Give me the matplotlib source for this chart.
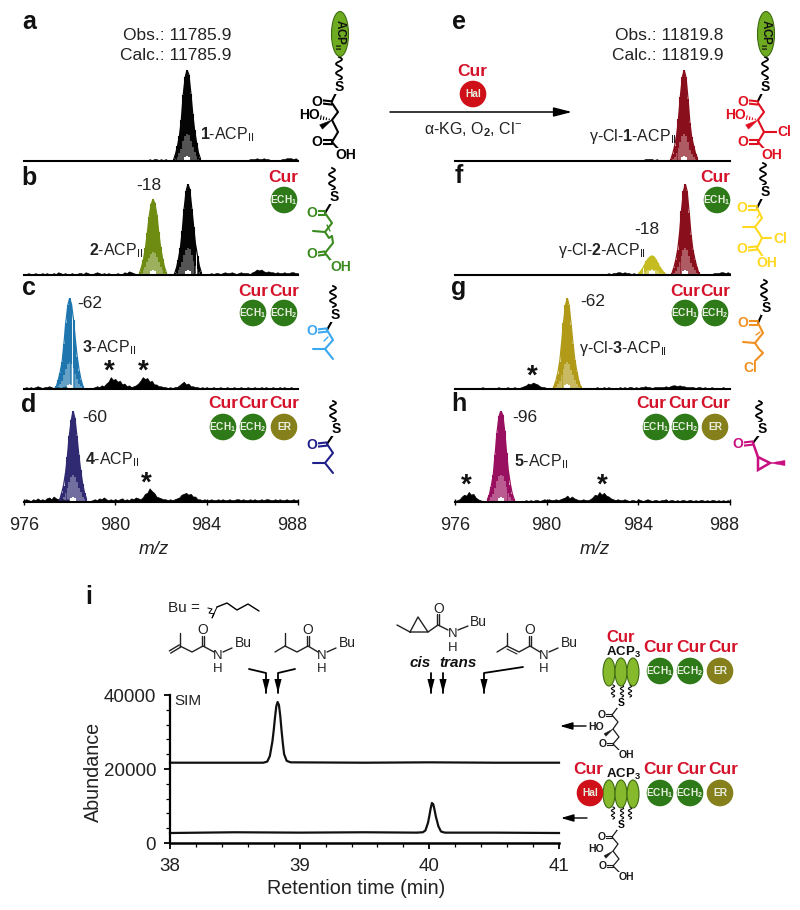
import numpy as np
import matplotlib
matplotlib.use("Agg")
import matplotlib.pyplot as plt
from matplotlib.patches import Ellipse, Circle, Polygon
from matplotlib.transforms import ScaledTranslation

plt.rcParams.update({
    "font.family": ["Liberation Sans", "DejaVu Sans"],
    "mathtext.fontset": "custom",
    "mathtext.rm": "Liberation Sans",
    "mathtext.bf": "Liberation Sans:bold",
    "mathtext.it": "Liberation Sans:italic",
    "mathtext.default": "regular",
})

# ---------------- data ----------------
mz_ticks = [976, 980, 984, 988]
isotope_offsets = [-0.58, -0.50, -0.42, -0.33, -0.25, -0.17, -0.08, 0.0, 0.08, 0.17, 0.25, 0.33, 0.42, 0.50, 0.58]

center_a = 983.14
int_a = [2, 8, 16, 28, 45, 72, 92, 100, 95, 74, 52, 34, 20, 9, 3]
center_b2 = 981.65
int_b2 = [3, 9, 17, 30, 46, 64, 78, 83, 79, 66, 47, 31, 18, 9, 3]
center_b1 = 983.18
int_b1 = [2, 8, 17, 30, 48, 72, 92, 100, 94, 73, 53, 34, 21, 10, 3]
center_c = 978.0
int_c = [3, 10, 18, 30, 50, 73, 92, 100, 93, 76, 54, 35, 20, 10, 3]
center_d = 978.15
int_d = [3, 10, 18, 32, 50, 72, 90, 100, 92, 72, 52, 35, 20, 10, 4]
center_e = 986.0
int_e = [2, 8, 16, 28, 46, 70, 92, 100, 92, 68, 42, 26, 16, 8, 3]
center_f2 = 984.6
int_f2 = [2, 4, 7, 11, 15, 18, 20, 21, 20, 17, 13, 9, 6, 3, 1]
center_f1 = 986.05
int_f1 = [2, 8, 16, 28, 46, 70, 92, 100, 92, 68, 44, 28, 17, 9, 3]
center_g = 980.9
int_g = [3, 9, 17, 30, 50, 72, 92, 100, 92, 70, 50, 32, 19, 9, 3]
center_h = 978.0
int_h = [3, 8, 17, 30, 52, 76, 94, 100, 96, 78, 54, 34, 19, 9, 3]

# baseline signal, one value every 0.1 m/z from 976 to 988 (one row per m/z unit)
noise_a = [1,0.5,1,1,0.5,1,1,0.5,1,1,
           1,0.5,1,1,0.5,1,0.5,1,1,0.5,
           1,1,0.5,1,1,0.5,1,1,0.5,1,
           1,1,0.5,1,0.5,1,1,0.5,1,1,
           1,1,0.5,1,1,1,0.5,1,1,0.5,
           1,1,1,1,0.5,2,1,2,2,1,
           2,1,2,1,1,0.5,1,0.5,1,1,
           1,0.5,1,0.5,1,1,0.5,1,0.5,1,
           1,1,0.5,1,1,0.5,1,1,0.5,1,
           1,1,1,1,0.5,1,1,1,1,2,
           2,2,3,2,2,3,2,2,1,1,
           1,1,1,2,2,3,3,3,2,3,
           1]
noise_b = [1,1,2,1,1,2,1,1,2,1,
           2,1,1,2,1,3,2,1,2,1,
           1,2,1,1,2,2,1,3,2,1,
           1,2,3,2,1,2,1,2,1,1,
           1,2,1,1,3,2,4,3,2,1,
           1,1,1,1,1,1,1,1,1,1,
           1,1,1,1,1,1,1,1,1,1,
           1,1,1,1,1,1,1,1,1,1,
           1,1,2,1,2,2,1,2,3,2,
           2,3,2,1,2,3,2,2,2,1,
           3,4,6,5,6,4,3,4,3,3,
           2,3,2,2,3,2,2,3,3,2,
           2]
noise_c = [1,2,1,2,1,2,3,2,1,2,
           2,3,2,1,3,2,1,2,3,1,
           1,1,1,1,1,1,1,1,1,1,
           1,2,3,2,4,3,6,8,13,10,
           11,8,9,5,6,3,4,2,3,4,
           6,9,13,11,12,8,9,5,5,3,
           3,2,2,1,2,1,2,2,4,6,
           8,5,6,3,3,2,2,1,2,1,
           2,1,1,2,1,1,2,1,1,2,
           1,1,2,1,1,2,1,1,2,1,
           1,2,1,1,2,1,2,1,1,2,
           1,1,2,1,2,1,1,2,1,1,
           1]
noise_d = [2,3,2,1,3,2,4,2,3,2,
           4,5,3,6,4,3,5,3,2,3,
           1,1,1,1,1,1,1,1,1,1,
           2,3,2,4,3,5,3,2,3,2,
           3,2,3,4,2,3,2,4,3,5,
           4,3,5,9,10,15,12,10,6,5,
           4,3,3,2,3,2,3,4,5,8,
           9,10,8,9,6,6,3,3,2,3,
           2,2,3,2,2,3,2,3,2,2,
           3,2,2,3,3,2,3,2,2,3,
           2,3,2,2,3,2,3,3,2,2,
           3,2,3,2,2,3,2,2,3,2,
           2]
noise_e = [1,0.5,1,0.5,1,1,0.5,1,0.5,1,
           1,0.5,1,1,0.5,1,0.5,1,1,0.5,
           1,1,0.5,1,0.5,1,1,0.5,1,1,
           0.5,1,1,1,0.5,1,1,0.5,1,1,
           1,0.5,1,1,0.5,1,0.5,1,1,0.5,
           1,1,0.5,1,1,1,0.5,1,1,0.5,
           1,0.5,1,1,0.5,1,1,1,1,1,
           1,1,1,1,0.5,1,1,0.5,1,1,
           1,1,1,2,2,2,2,1,2,1,
           1,1,1,1,1,1,1,1,1,1,
           1,1,1,1,1,1,1,1,1,1,
           1,1,1,0.5,1,1,0.5,1,1,1,
           1]
noise_f = [1,0.5,1,1,0.5,1,1,0.5,1,1,
           1,0.5,1,1,0.5,1,1,0.5,1,1,
           1,1,0.5,1,1,0.5,1,1,0.5,1,
           1,1,0.5,1,1,0.5,1,1,1,0.5,
           1,1,0.5,1,1,1,0.5,1,1,0.5,
           1,1,0.5,1,1,1,1,1,0.5,1,
           1,1,1,0.5,1,1,1,2,1,2,
           2,3,3,2,3,2,2,1,2,1,
           1,1,1,1,1,1,1,1,1,1,
           1,1,1,1,1,1,1,1,1,1,
           1,1,1,1,1,1,1,1,1,1,
           1,1,1,2,2,2,3,3,2,3,
           2]
noise_g = [1,1,0.5,1,1,0.5,1,1,0.5,1,
           1,1,2,1,1,0.5,1,1,1,2,
           1,1,1,2,1,1,2,1,1,2,
           3,4,6,5,7,6,5,3,2,2,
           1,1,1,1,1,1,1,1,1,1,
           1,1,1,1,1,1,1,1,1,1,
           1,1,2,1,1,2,1,2,1,1,
           1,1,2,1,2,1,2,2,1,2,
           1,2,2,3,2,2,1,2,2,2,
           2,2,3,2,3,4,4,3,4,3,
           3,2,2,2,2,1,2,2,1,2,
           1,1,2,1,1,1,1,2,1,1,
           1]
noise_h = [1,2,3,6,8,7,11,8,9,5,
           3,2,1,1,1,1,1,1,1,1,
           1,1,1,1,1,1,1,1,1,1,
           1,2,1,2,1,2,2,1,2,3,
           2,3,2,2,3,2,3,4,5,7,
           4,6,4,3,2,2,3,2,2,3,
           5,8,7,11,8,10,7,6,4,3,
           2,3,2,2,3,2,1,2,2,1,
           3,2,1,2,3,2,1,2,2,1,
           2,2,3,1,2,2,1,2,1,2,
           2,1,2,2,1,2,1,2,2,1,
           2,1,2,2,1,2,1,2,1,2,
           1]

rt_ticks = [38, 39, 40, 41]
abundance_ticks = [0, 20000, 40000]
rt_top = [38.0, 38.5, 38.72, 38.75, 38.77, 38.79, 38.80, 38.81, 38.82, 38.83, 38.84, 38.85, 38.86, 38.87, 38.88, 38.90, 38.93, 39.5, 40.0, 40.5, 41.0]
ab_top = [21700, 21700, 21700, 22000, 23500, 27500, 30500, 34000, 37000, 38100, 37300, 34500, 30500, 27000, 24000, 22200, 21800, 21700, 21800, 21700, 21700]
rt_bot = [38.0, 38.5, 39.0, 39.5, 39.9, 39.95, 39.97, 39.99, 40.0, 40.01, 40.02, 40.03, 40.04, 40.05, 40.07, 40.09, 40.12, 40.5, 41.0]
ab_bot = [2700, 2900, 2800, 2900, 2800, 2900, 3400, 5500, 7300, 9300, 10800, 10500, 9000, 7200, 4500, 3100, 2800, 2800, 2700]

# ---------------- palette ----------------
INK = "#222222"
RED = "#d4122a"
DGREEN = "#2f7a18"
OLIVE = "#857f1c"
LGREEN = "#6fab20"
MGREEN = "#86b92c"

HOLLOW = [0, 0, 0, 0, 0, 1.5, 4, 6, 4, 1.5, 0, 0, 0, 0, 0]

fig = plt.figure(figsize=(8, 9.1), dpi=100, facecolor="white")


def axes_px(x0, x1, ytop, ybot):
    return fig.add_axes([x0 / 800, 1 - ybot / 910, (x1 - x0) / 800, (ybot - ytop) / 910])


def spectrum(x0, x1, ybase, noise, peaks, bottom=False):
    ax = axes_px(x0, x1, ybase - 91, ybase)
    ax.set_xlim(976, 988)
    ax.set_ylim(0, 100)
    ax.patch.set_alpha(0)
    for s in ("top", "left", "right"):
        ax.spines[s].set_visible(False)
    ax.spines["bottom"].set_linewidth(1.5)
    ax.set_yticks([])
    ax.fill_between(np.linspace(976, 988, len(noise)), 0, noise, color="black", lw=0.5)
    for center, values, color in peaks:
        xs = np.array(isotope_offsets) + center
        ys = np.array(values, float)
        ax.vlines(xs, HOLLOW, ys, color=color, lw=1.15, alpha=0.85)
        ax.vlines(xs, ys * 0.3, ys, color=color, lw=1.5)
        ax.plot(xs, ys, color=color, lw=0.9)
    if bottom:
        ax.set_xticks(mz_ticks)
        ax.set_xticklabels([str(t) for t in mz_ticks], fontsize=13, color=INK)
        ax.tick_params(axis="x", direction="inout", length=4, width=1, pad=9)
        last = ax.get_xticklabels()[-1]
        last.set_transform(last.get_transform() + ScaledTranslation(-6 / 100, 0, fig.dpi_scale_trans))
    else:
        ax.set_xticks([])
    return ax


LX0, LX1, RX0, RX1 = 24, 298, 455, 730
BLK = "#050505"
spectrum(LX0, LX1, 161, noise_a, [(center_a, int_a, BLK)])
spectrum(LX0, LX1, 275, noise_b, [(center_b2, int_b2, "#6f8c12"), (center_b1, int_b1, BLK)])
spectrum(LX0, LX1, 389, noise_c, [(center_c, int_c, "#1f76ae")])
spectrum(LX0, LX1, 502, noise_d, [(center_d, int_d, "#302a72")], bottom=True)
spectrum(RX0, RX1, 161, noise_e, [(center_e, int_e, "#8a0f1c")])
spectrum(RX0, RX1, 275, noise_f, [(center_f2, int_f2, "#c4bc20"), (center_f1, int_f1, "#8a0f1c")])
spectrum(RX0, RX1, 389, noise_g, [(center_g, int_g, "#b09a18")])
spectrum(RX0, RX1, 502, noise_h, [(center_h, int_h, "#9a1060")], bottom=True)

# ---------------- chromatogram ----------------
axc = axes_px(170, 559, 695, 843)
axc.set_xlim(38, 41)
axc.set_ylim(0, 40000)
axc.patch.set_alpha(0)
axc.spines["top"].set_visible(False)
axc.spines["right"].set_visible(False)
axc.spines["left"].set_linewidth(1.6)
axc.spines["bottom"].set_linewidth(1.8)
axc.plot(rt_top, ab_top, color="#111111", lw=1.6, clip_on=False)
axc.plot(rt_bot, ab_bot, color="#111111", lw=1.6, clip_on=False)
axc.set_xticks(rt_ticks)
axc.set_xticks([38 + 0.2 * i for i in range(16)], minor=True)
axc.set_yticks(abundance_ticks)
axc.set_yticks([4000 * i for i in range(11)], minor=True)
axc.set_xticklabels([str(t) for t in rt_ticks], fontsize=13.5, color=INK)
axc.set_yticklabels([str(t) for t in abundance_ticks], fontsize=13.5, color=INK)
axc.tick_params(which="major", length=4, width=1.3, pad=7)
axc.tick_params(which="minor", length=3, width=0.9)
axc.tick_params(axis="y", which="major", pad=6)

# ---------------- overlay in figure pixels ----------------
ov = fig.add_axes([0, 0, 1, 1], zorder=5)
ov.set_xlim(0, 800)
ov.set_ylim(910, 0)
ov.axis("off")
ov.patch.set_alpha(0)


def T(x, y, s, size=12, color=INK, ha="center", va="center", **kw):
    return ov.text(x, y, s, fontsize=size, color=color, ha=ha, va=va, **kw)


def line(pts, color="black", lw=1.5):
    xs, ys = zip(*pts)
    ov.plot(xs, ys, color=color, lw=lw, solid_capstyle="round", solid_joinstyle="round")


def dbl(p, q, color, lw=1.5, off=1.6):
    p, q = np.array(p, float), np.array(q, float)
    n = q - p
    n = np.array([-n[1], n[0]]) / np.hypot(*n) * off
    line([p + n, q + n], color, lw)
    line([p - n, q - n], color, lw)


def atom(x, y, s, color, size=10, weight="bold"):
    ov.text(x, y, s, fontsize=size, color=color, ha="center", va="center", weight=weight,
            bbox=dict(fc="white", ec="none", pad=0.2), zorder=6)


def squiggle(x, y0, y1, color="black", amp=3.0, waves=2.5, lw=1.3):
    t = np.linspace(0, 1, 60)
    ov.plot(x + amp * np.sin(t * waves * 2 * np.pi), y0 + (y1 - y0) * t, color=color, lw=lw)


def wedge(p, q, color, w=2.6):
    p, q = np.array(p, float), np.array(q, float)
    n = q - p
    n = np.array([-n[1], n[0]]) / np.hypot(*n) * w
    ov.add_patch(Polygon([p, q + n, q - n], closed=True, fc=color, ec=color, lw=0.3))


def hashed(p, q, color, n=5, w=2.4):
    p, q = np.array(p, float), np.array(q, float)
    d = (q - p)
    perp = np.array([-d[1], d[0]]) / np.hypot(*d)
    for i in range(1, n + 1):
        c = p + d * i / n
        line([c + perp * w * i / n, c - perp * w * i / n], color, 0.8)


def circle(x, y, label, fc, r=13.3, size=7.3):
    ov.add_patch(Circle((x, y), r, fc=fc, ec="none", zorder=3))
    T(x, y, label, size=size, color="#e8efe0", weight="bold", zorder=4)


def ellipse(x, y, w, h, label=None, fc=LGREEN):
    ov.add_patch(Ellipse((x, y), w, h, fc=fc, ec="#3d6b12", lw=0.8, zorder=3))
    if label:
        T(x, y, label, size=8.5, color="#111111", rotation=-90, weight="bold", zorder=4)


ECH1 = "ECH$_{1}$"
ECH2 = "ECH$_{2}$"
ACP2 = "ACP$_{II}$"

# panel letters
for x, y, s in [(29, 22, "a"), (29, 178, "b"), (29, 288, "c"), (29, 405, "d"),
                (459, 22, "e"), (459, 176, "f"), (459, 288, "g"), (459, 404, "h"), (89, 597, "i")]:
    T(x, y, s, size=18, color="#111111", weight="bold")

# text panels a-h
T(231, 35, "Obs.: 11785.9", 12.5, ha="right")
T(231, 56, "Calc.: 11785.9", 12.5, ha="right")
T(723, 35, "Obs.: 11819.8", 12.5, ha="right")
T(723, 56, "Calc.: 11819.9", 12.5, ha="right")
L = 11.5
T(200, 135, r"$\mathbf{1}$-" + ACP2, L, ha="left")
T(149, 186, "-18", 12.5)
T(89, 251, r"$\mathbf{2}$-" + ACP2, L, ha="left")
T(77, 303, "-62", 12.5, ha="left")
T(82, 348, r"$\mathbf{3}$-" + ACP2, L, ha="left")
T(82, 417, "-60", 12.5, ha="left")
T(85, 460, r"$\mathbf{4}$-" + ACP2, L, ha="left")
T(589, 137, r"γ-Cl-$\mathbf{1}$-" + ACP2, L, ha="left")
T(647, 229, "-18", 12.5)
T(558, 251, r"γ-Cl-$\mathbf{2}$-" + ACP2, L, ha="left")
T(580, 302, "-62", 12.5, ha="left")
T(579, 349, r"γ-Cl-$\mathbf{3}$-" + ACP2, L, ha="left")
T(512, 417, "-96", 12.5, ha="left")
T(514, 462, r"$\mathbf{5}$-" + ACP2, L, ha="left")
for x, y in [(109, 372), (143, 372), (146, 484), (532, 377), (466, 486), (602, 486)]:
    T(x, y, "*", 20, color="#111111", weight="bold")
T(154, 549, "m/z", 13.5, style="italic")
T(595, 549, "m/z", 13.5, style="italic")


# Cur labels and domain circles
def cur(x, y, size=12.5):
    T(x, y, "Cur", size, color=RED, weight="bold")


cur(283, 178); circle(284, 200, ECH1, DGREEN)
cur(253, 291); cur(284, 291); circle(253, 313, ECH1, DGREEN); circle(284, 313, ECH2, DGREEN)
cur(223, 404); cur(253, 404); cur(284, 404)
circle(223, 427, ECH1, DGREEN); circle(253, 427, ECH2, DGREEN); circle(284, 427, "ER", OLIVE)
cur(715, 178); circle(717, 200, ECH1, DGREEN)
cur(685, 291); cur(715, 291); circle(685, 313, ECH1, DGREEN); circle(715, 313, ECH2, DGREEN)
cur(651, 404); cur(683, 404); cur(715, 404)
circle(656, 427, ECH1, DGREEN); circle(685, 427, ECH2, DGREEN); circle(715, 427, "ER", OLIVE)

# reaction arrow
cur(472, 71); circle(473, 94, "Hal", "#cf1018")
ov.annotate("", xy=(572, 112), xytext=(390, 112),
            arrowprops=dict(arrowstyle="-|>,head_length=1.1,head_width=0.28", color="black", lw=1.1,
                            shrinkA=0, shrinkB=0))
T(473, 130, r"α-KG, O$_{\mathbf{2}}$, Cl$^{-}$", 11.5)


# substrates -------------------------------------------------------
def sub_a(dx, color, chloro=False):
    ellipse(340 + dx, 34, 17, 45, ACP2)
    squiggle(339 + dx, 57, 80)
    atom(339 + dx, 87, "S", "black")
    line([(336 + dx, 93), (332 + dx, 101)], "black")
    line([(332 + dx, 103), (338 + dx, 112), (332 + dx, 120), (338 + dx, 132), (332 + dx, 142)], color)
    dbl((323 + dx, 102), (332 + dx, 103), color)
    dbl((323 + dx, 142), (332 + dx, 142), color)
    line([(332 + dx, 142), (340 + dx, 151)], color)
    atom(317 + dx, 102, "O", color)
    atom(317 + dx, 142, "O", color)
    atom(346 + dx, 155, "OH", color)
    atom(309 + dx, 115, "HO", color)
    hashed((332 + dx, 120), (318 + dx, 117), color)
    wedge((332 + dx, 120), (321 + dx, 127), color)
    if chloro:
        line([(338 + dx, 132), (351 + dx, 132)], color)
        atom(358 + dx, 132, "Cl", color)


sub_a(0, "black")
sub_a(426, "#e01020", chloro=True)

# b
c = "#3a8a20"
squiggle(332, 168, 190)
atom(334, 197, "S", "black")
line([(331, 203), (325, 213)], "black")
line([(325, 213), (332, 223), (325, 232)], c)
line([(327, 225), (330, 231)], c, 1.0)
line([(313, 231), (325, 232)], c)
line([(325, 232), (329, 238), (332, 236), (333, 243), (325, 253), (332, 262)], c)
dbl((318, 213), (325, 213), c); atom(312, 213, "O", c)
dbl((318, 254), (325, 253), c); atom(312, 254, "O", c)
atom(341, 267, "OH", c)

# c
c = "#3aa8f0"
squiggle(333, 286, 307)
atom(335, 315, "S", "black")
line([(332, 321), (327, 330)], "black")
line([(327, 330), (333, 340), (325, 349), (333, 359)], c)
line([(325, 349), (313, 349)], c)
line([(324, 341), (328, 337)], c, 1.0)
dbl((318, 331), (327, 330), c); atom(312, 331, "O", c)

# d
c = "#20208a"
squiggle(333, 401, 422)
atom(336, 429, "S", "black")
line([(333, 435), (327, 444)], "black")
line([(327, 444), (333, 453), (325, 463), (333, 473)], c)
line([(325, 463), (313, 463)], c)
dbl((318, 445), (327, 444), c); atom(312, 445, "O", c)

# f
c = "#ffd820"
squiggle(763, 163, 185)
atom(765, 192, "S", "black")
line([(762, 198), (757, 208)], "black")
line([(757, 208), (762, 218), (755, 227)], c)
line([(755, 227), (743, 227)], c)
line([(755, 227), (759, 233), (762, 238), (757, 248), (763, 257)], c)
line([(762, 238), (771, 238)], c)
line([(757, 218), (760, 213)], c, 1.0)
atom(780, 239, "Cl", c)
dbl((748, 208), (757, 208), c); atom(742, 208, "O", c)
dbl((748, 249), (757, 248), c); atom(742, 249, "O", c)
atom(767, 263, "OH", c)

# g
c = "#f09020"
squiggle(764, 280, 301)
atom(766, 308, "S", "black")
line([(762, 314), (758, 323)], "black")
line([(758, 323), (763, 333), (755, 343)], c)
line([(755, 343), (743, 342)], c)
line([(755, 343), (759, 349), (763, 353), (755, 361)], c)
line([(756, 335), (760, 332)], c, 1.0)
atom(750, 368, "Cl", c)
dbl((749, 323), (758, 323), c); atom(743, 323, "O", c)

# h
c = "#c81080"
squiggle(759, 401, 422)
atom(762, 429, "S", "black")
line([(759, 435), (753, 443)], "black")
line([(753, 443), (758, 457)], c, 1.8)
ov.add_patch(Polygon([(758, 457), (758, 470), (770, 463)], closed=True, fc="none", ec=c, lw=1.8))
wedge((770, 463), (785, 463), c)
dbl((744, 444), (753, 443), c); atom(738, 444, "O", c)

# chromatogram labels ---------------------------------------------------
T(356, 888, "Retention time (min)", 14.2)
T(93, 772, "Abundance", 14.2, rotation=90)
T(174, 701, "SIM", 11, ha="left")
T(168, 608, "Bu =", 11, ha="left")
line([(217, 607), (227, 603), (237, 610), (248, 604), (259, 611)], "black", 1.0)
ov.plot([208, 212, 209, 214, 212, 217], [608, 609, 613, 614, 618, 607], color="black", lw=0.7)


def amide(x0, xo, xn, xbu, kind):
    c = "#222222"
    lw = 1.0
    line([(x0 + 10, 646), (x0 + 22, 652), (xo, 646), (xn - 4, 652)], c, lw)
    line([(x0 + 10, 646), (x0 + 10, 633)], c, lw)
    if kind == "vinyl":
        dbl((x0, 652), (x0 + 10, 646), c, lw, 1.3)
    else:
        line([(x0, 652), (x0 + 10, 646)], c, lw)
    if kind == "ene":
        line([(x0 + 10, 649), (x0 + 20, 654)], c, 0.8)
    dbl((xo, 646), (xo, 636), c, lw, 1.2)
    T(xo, 630, "O", 10)
    T(xn, 656, "N", 9.5)
    T(xn, 669, "H", 9.5)
    line([(xn + 5, 652), (xn + 14, 648)], c, lw)
    T(xbu, 643, "Bu", 10)


amide(170, 203, 218, 243, "vinyl")
amide(275, 308, 322, 347, "sat")
amide(497, 530, 544, 569, "ene")

# cyclopropane amide
c = "#222222"
line([(397, 625), (410, 632), (418, 617), (428, 632), (410, 632)], c, 1.0)
line([(428, 632), (438, 625), (448, 630)], c, 1.0)
dbl((438, 625), (438, 614), c, 1.0, 1.2)
T(439, 609, "O", 10)
T(453, 634, "N", 9.5)
T(453, 648, "H", 9.5)
line([(458, 630), (468, 626)], c, 1.0)
T(478, 622, "Bu", 10)
T(420, 663, "cis", 11, color="#111111", weight="bold", style="italic")
T(458, 663, "trans", 11, color="#111111", weight="bold", style="italic")


def down(pts):
    line(pts, "black", 1.3)
    x, y = pts[-1]
    ov.add_patch(Polygon([(x - 3.6, y - 14), (x + 3.6, y - 14), (x, y)], closed=True, fc="black", ec="none"))


down([(249, 669), (266, 673), (266, 693)])
down([(295, 669), (278, 673), (278, 693)])
down([(431, 673), (431, 693)])
down([(443, 673), (443, 693)])
down([(523, 667), (484, 673), (484, 693)])

for x0, x1, y in [(586, 560, 726), (587, 561, 818)]:
    ov.annotate("", xy=(x1, y), xytext=(x0, y),
                arrowprops=dict(arrowstyle="-|>,head_length=0.75,head_width=0.22", color="black", lw=1.0,
                                shrinkA=0, shrinkB=0))


def module(dy):
    c = "#1a1a1a"
    for x in (609, 621, 633):
        ellipse(x, 672 + dy, 12, 28, fc=MGREEN)
    circle(660, 671 + dy, ECH1, DGREEN)
    circle(690, 671 + dy, ECH2, DGREEN)
    circle(720, 671 + dy, "ER", OLIVE)
    for x in (658, 691, 723):
        cur(x, 647 + dy)
    for x in (613, 622, 630):
        squiggle(x, 685 + dy, 697 + dy, amp=1.6, lw=0.8)
    atom(621, 703 + dy, "S", "black", size=7.5)
    line([(618, 707 + dy), (612, 715 + dy), (618, 722 + dy), (613, 729 + dy), (619, 737 + dy), (613, 744 + dy), (620, 751 + dy)], c, 0.9)
    dbl((605, 715 + dy), (612, 715 + dy), c, 0.8, 1.1)
    dbl((606, 744 + dy), (613, 744 + dy), c, 0.8, 1.1)
    atom(602, 715 + dy, "O", c, size=7.5)
    atom(603, 744 + dy, "O", c, size=7.5)
    atom(626, 755 + dy, "OH", c, size=7.5)
    atom(596, 727 + dy, "HO", c, size=7.5)
    wedge((613, 729 + dy), (605, 735 + dy), c, 1.6)
    T(623, 652 + dy, "ACP$_{3}$", 9.5, color="#111111", weight="bold")


module(0)
cur(621, 637, 12)
module(122)
cur(588, 769)
circle(590, 793, "Hal", "#cf1018")

fig.savefig("out.png", dpi=100, facecolor="white")
